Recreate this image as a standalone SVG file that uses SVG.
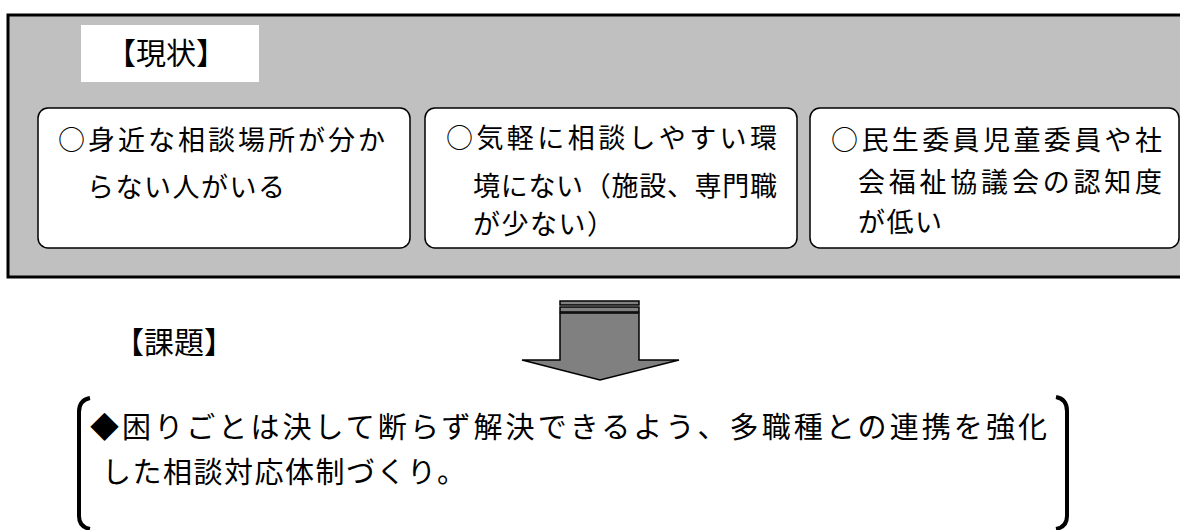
<svg xmlns="http://www.w3.org/2000/svg" width="1180" height="530" viewBox="0 0 1180 530">
<style>
text{font-family:"Noto Sans CJK JP","Noto Sans",sans-serif;fill:#000}
.box{fill:#fff;stroke:#000;stroke-width:1.5}
.t{font-size:27px}
.tl{font-size:27px;letter-spacing:1.5px}
.h{font-size:30px}
.b{font-size:29px}
.arr{fill:#808080;stroke:#000;stroke-width:1.5}
.br{fill:none;stroke:#000;stroke-width:4}
</style>
<rect x="0" y="0" width="1180" height="530" fill="#fff"/>
<g id="current">
<rect x="8" y="15" width="1180" height="262" fill="#c0c0c0" stroke="#000" stroke-width="3"/>
<rect x="81" y="25" width="178" height="57" fill="#fff"/>
<text class="h" x="106" y="64">【現状】</text>
</g>
<g id="node1">
<rect class="box" x="38" y="108" width="372" height="140" rx="10"/>
<text class="t" x="58" y="150" textLength="327" lengthAdjust="spacing">○身近な相談場所が分か</text>
<text class="tl" x="87" y="197">らない人がいる</text>
</g>
<g id="node2">
<rect class="box" x="425" y="108" width="372" height="140" rx="10"/>
<text class="t" x="446" y="148" textLength="331" lengthAdjust="spacing">○気軽に相談しやすい環</text>
<text class="t" x="473" y="196" textLength="304" lengthAdjust="spacing">境にない（施設、専門職</text>
<text class="tl" x="473" y="234">が少ない）</text>
</g>
<g id="node3">
<rect class="box" x="810" y="108" width="369" height="140" rx="10"/>
<text class="t" x="831" y="150" textLength="331" lengthAdjust="spacing">○民生委員児童委員や社</text>
<text class="t" x="858" y="192" textLength="304" lengthAdjust="spacing">会福祉協議会の認知度</text>
<text class="tl" x="858" y="232">が低い</text>
</g>
<g id="connectors">
<rect class="arr" x="560" y="301" width="79" height="4"/>
<rect class="arr" x="560" y="307" width="79" height="5"/>
<polygon class="arr" points="560,313 639,313 639,360 679,360 600,380 522,360 560,360"/>
</g>
<g id="task">
<text class="h" x="114" y="353">【課題】</text>
<path class="br" d="M90,398 Q79,400 79,412 L79,516 Q79,527 90,529"/>
<path class="br" d="M1056,397 Q1067,399 1067,411 L1067,516 Q1067,527 1056,529"/>
<text class="b" x="90" y="438" textLength="957" lengthAdjust="spacing">◆困りごとは決して断らず解決できるよう、多職種との連携を強化</text>
<text class="b" x="102" y="483" style="letter-spacing:1.5px">した相談対応体制づくり。</text>
</g>
</svg>
